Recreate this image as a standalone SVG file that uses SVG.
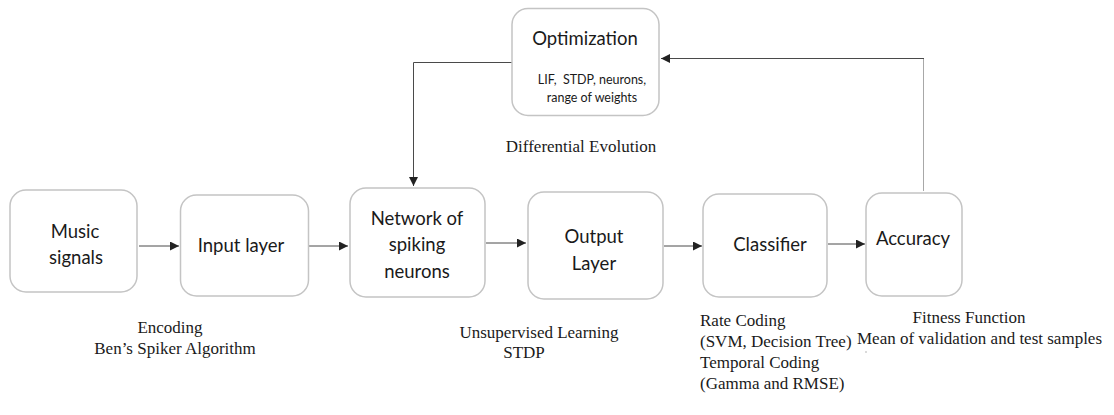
<svg xmlns="http://www.w3.org/2000/svg" width="1114" height="415" viewBox="0 0 1114 415">
  <style>
    .box { fill: #ffffff; stroke: #c4c4c4; stroke-width: 1.5; }
    .lbl { font-family: Lato, "Liberation Sans", sans-serif; font-size: 18.5px; fill: #1a1a1a; text-anchor: middle; }
    .small { font-family: Lato, "Liberation Sans", sans-serif; font-size: 12.5px; fill: #1a1a1a; text-anchor: middle; white-space: pre; }
    .note { font-family: "Liberation Serif", serif; font-size: 17px; fill: #1a1a1a; }
    .mid { text-anchor: middle; }
    .wire { fill: none; stroke: #4a4a4a; stroke-width: 1; }
    .wire-light { fill: none; stroke: #a8a8a8; stroke-width: 1; }
  </style>
  <defs>
    <marker id="arrow" viewBox="0 0 10 10" refX="10" refY="5" markerWidth="9" markerHeight="9" markerUnits="userSpaceOnUse" orient="auto">
      <path d="M0,0 L10,5 L0,10 Z" fill="#222"/>
    </marker>
  </defs>

  <rect width="1114" height="415" fill="#ffffff"/>

  <!-- connectors -->
  <g id="connectors">
    <line class="wire" x1="139" y1="246" x2="179" y2="246" marker-end="url(#arrow)"/>
    <line class="wire" x1="309" y1="246" x2="348" y2="246" marker-end="url(#arrow)"/>
    <line class="wire" x1="486" y1="243" x2="526" y2="243" marker-end="url(#arrow)"/>
    <line class="wire" x1="664" y1="246" x2="702" y2="246" marker-end="url(#arrow)"/>
    <line class="wire" x1="828" y1="244" x2="865" y2="244" marker-end="url(#arrow)"/>
    <!-- feedback: accuracy back to optimization -->
    <line class="wire-light" x1="923.5" y1="191" x2="923.5" y2="58.5"/>
    <line class="wire" x1="924" y1="58.5" x2="661" y2="58.5" marker-end="url(#arrow)"/>
    <!-- optimization feeds the spiking network -->
    <polyline class="wire" points="512,62.5 413.5,62.5 413.5,186" marker-end="url(#arrow)"/>
  </g>

  <g id="optimization">
    <rect class="box" x="512" y="8.5" width="147" height="107" rx="16"/>
    <text class="lbl" x="585" y="45">Optimization</text>
    <text class="small" x="592" y="84" xml:space="preserve">LIF,  STDP, neurons,</text>
    <text class="small" x="592" y="102">range of weights</text>
  </g>

  <g id="music-signals">
    <rect class="box" x="10" y="190" width="127" height="102" rx="16"/>
    <text class="lbl" x="75" y="238">Music</text>
    <text class="lbl" x="76" y="264">signals</text>
  </g>

  <g id="input-layer">
    <rect class="box" x="180.5" y="195" width="128" height="101" rx="16"/>
    <text class="lbl" x="241" y="252">Input layer</text>
  </g>

  <g id="spiking-network">
    <rect class="box" x="350" y="188" width="135" height="109" rx="16"/>
    <text class="lbl" x="417" y="225">Network of</text>
    <text class="lbl" x="417" y="251">spiking</text>
    <text class="lbl" x="417" y="278">neurons</text>
  </g>

  <g id="output-layer">
    <rect class="box" x="528" y="192" width="135" height="107" rx="16"/>
    <text class="lbl" x="594" y="243">Output</text>
    <text class="lbl" x="594" y="270">Layer</text>
  </g>

  <g id="classifier">
    <rect class="box" x="703" y="194" width="124" height="103" rx="16"/>
    <text class="lbl" x="770" y="251">Classifier</text>
  </g>

  <g id="accuracy">
    <rect class="box" x="866" y="193" width="96" height="103" rx="16"/>
    <text class="lbl" x="913" y="245">Accuracy</text>
  </g>

  <!-- annotations -->
  <g id="annotations">
    <text class="note mid" x="581" y="152">Differential Evolution</text>
    <text class="note mid" x="170" y="333">Encoding</text>
    <text class="note mid" x="175" y="354">Ben’s Spiker Algorithm</text>
    <text class="note mid" x="539" y="338">Unsupervised Learning</text>
    <text class="note mid" x="524" y="358">STDP</text>
    <text class="note" x="700" y="326">Rate Coding</text>
    <text class="note" x="700" y="347">(SVM, Decision Tree)</text>
    <text class="note" x="700" y="368">Temporal Coding</text>
    <text class="note" x="700" y="389">(Gamma and RMSE)</text>
    <text class="note mid" x="969" y="323">Fitness Function</text>
    <text class="note" x="857" y="344">Mean of validation and test samples</text>
    <circle cx="866" cy="352" r="0.7" fill="#999"/>
  </g>
</svg>
